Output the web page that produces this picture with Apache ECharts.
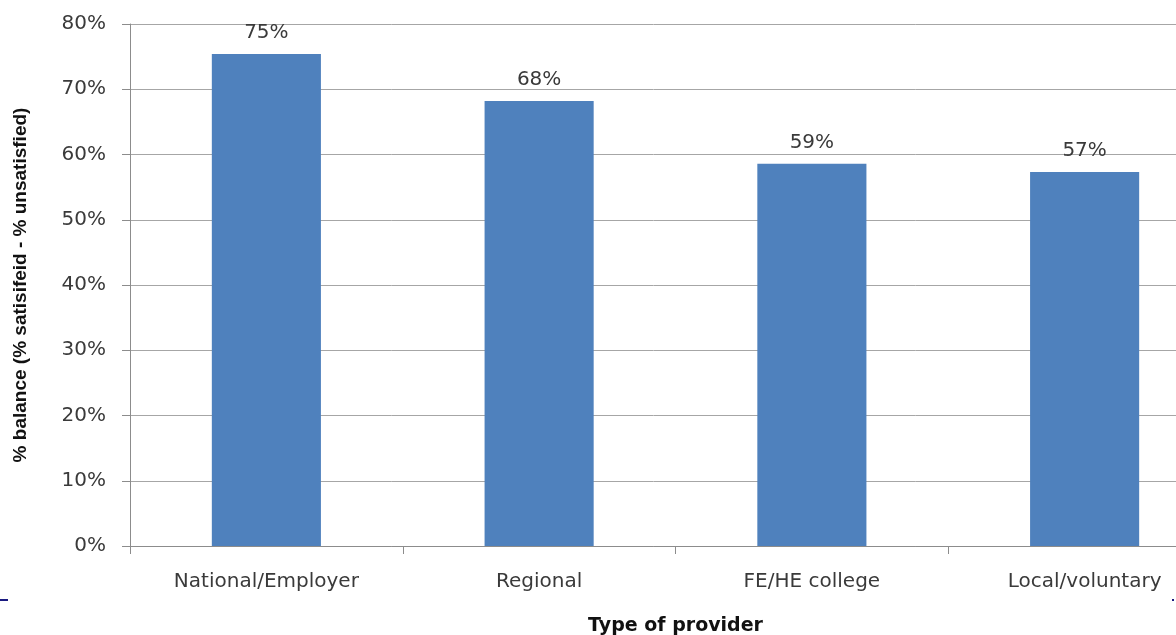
<!DOCTYPE html>
<html>
<head>
<meta charset="utf-8">
<script src="https://cdn.jsdelivr.net/npm/echarts@6/dist/echarts.min.js"></script>
<style>html,body{margin:0;padding:0;background:#fff;}#chart{width:1176px;height:635px;}</style>
</head>
<body>
<div id="chart"></div>
<script>
const categories = ['National/Employer', 'Regional', 'FE/HE college', 'Local/voluntary'];
const balanceValues = [75.4, 68.2, 58.6, 57.3];
const yTickMin = 0, yTickMax = 80, yTickStep = 10;
const yAxisTitle = '% balance (% satisifeid - % unsatisfied)';
const xAxisTitle = 'Type of provider';

const chart = echarts.init(document.getElementById('chart'), null, {renderer: 'canvas'});
const textColor = '#3a3a3a';
const font = 'DejaVu Sans';
chart.setOption({
  animation: false,
  backgroundColor: '#ffffff',
  grid: {left: 130, top: 24, height: 522, width: 1091, containLabel: false, outerBoundsMode: 'none'},
  xAxis: {
    type: 'category',
    data: categories,
    name: xAxisTitle,
    nameLocation: 'middle',
    nameGap: 71,
    nameTextStyle: {fontFamily: font, fontWeight: 'bold', fontSize: 19, color: '#111'},
    axisLine: {lineStyle: {color: '#8c8c8c', width: 1}},
    axisTick: {show: true, length: 8, lineStyle: {color: '#8c8c8c'}},
    axisLabel: {fontFamily: font, fontSize: 20, color: textColor, margin: 26}
  },
  yAxis: {
    type: 'value',
    min: yTickMin, max: yTickMax, interval: yTickStep,
    name: yAxisTitle,
    nameLocation: 'middle',
    nameRotate: 90,
    nameGap: 100,
    nameTextStyle: {fontFamily: 'Liberation Sans', fontWeight: 'bold', fontSize: 19, color: '#111'},
    axisLine: {show: true, lineStyle: {color: '#8c8c8c', width: 1}},
    axisTick: {show: true, length: 8, lineStyle: {color: '#8c8c8c'}},
    axisLabel: {fontFamily: font, fontSize: 20, color: textColor, margin: 24, formatter: '{value}%'},
    splitLine: {lineStyle: {color: '#a6a6a6', width: 1}}
  },
  series: [{
    type: 'bar',
    data: balanceValues,
    barWidth: '40%',
    itemStyle: {color: '#4f81bd'},
    label: {
      show: true, position: 'top', distance: 11,
      fontFamily: font, fontSize: 20, color: textColor,
      formatter: p => Math.round(p.value) + '%'
    }
  }],
  graphic: [
    {type: 'rect', left: 0, top: 599, shape: {width: 8, height: 2}, style: {fill: '#1a1a80'}},
    {type: 'rect', left: 1172, top: 599, shape: {width: 2, height: 2}, style: {fill: '#1a1a80'}}
  ]
});
</script>
</body>
</html>
